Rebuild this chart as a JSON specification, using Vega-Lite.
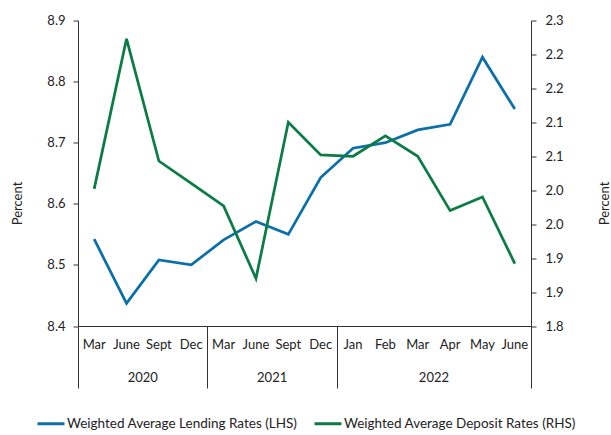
{
  "$schema": "https://vega.github.io/schema/vega-lite/v6.json",
  "autosize": "none",
  "width": 453,
  "height": 305.5,
  "padding": {"left": 78, "top": 20.5, "right": 80, "bottom": 109},
  "background": "white",
  "config": {
    "font": "Lato",
    "view": {"stroke": null},
    "axis": {
      "labelFont": "Lato", "labelFontSize": 13, "labelColor": "#222",
      "titleFont": "Lato", "titleFontSize": 13, "titleFontWeight": "normal", "titleColor": "#222",
      "grid": false, "domainColor": "#333", "tickColor": "#333", "domainWidth": 1, "tickWidth": 1
    },
    "legend": {"labelFont": "Lato", "labelFontSize": 13.5, "labelColor": "#222"}
  },
  "data": {"values": [
    {"key": "2020 Mar", "series": "Weighted Average Lending Rates (LHS)", "value": 8.542},
    {"key": "2020 June", "series": "Weighted Average Lending Rates (LHS)", "value": 8.437},
    {"key": "2020 Sept", "series": "Weighted Average Lending Rates (LHS)", "value": 8.508},
    {"key": "2020 Dec", "series": "Weighted Average Lending Rates (LHS)", "value": 8.500},
    {"key": "2021 Mar", "series": "Weighted Average Lending Rates (LHS)", "value": 8.541},
    {"key": "2021 June", "series": "Weighted Average Lending Rates (LHS)", "value": 8.571},
    {"key": "2021 Sept", "series": "Weighted Average Lending Rates (LHS)", "value": 8.550},
    {"key": "2021 Dec", "series": "Weighted Average Lending Rates (LHS)", "value": 8.643},
    {"key": "2022 Jan", "series": "Weighted Average Lending Rates (LHS)", "value": 8.691},
    {"key": "2022 Feb", "series": "Weighted Average Lending Rates (LHS)", "value": 8.700},
    {"key": "2022 Mar", "series": "Weighted Average Lending Rates (LHS)", "value": 8.721},
    {"key": "2022 Apr", "series": "Weighted Average Lending Rates (LHS)", "value": 8.730},
    {"key": "2022 May", "series": "Weighted Average Lending Rates (LHS)", "value": 8.840},
    {"key": "2022 June", "series": "Weighted Average Lending Rates (LHS)", "value": 8.755},
    {"key": "2020 Mar", "series": "Weighted Average Deposit Rates (RHS)", "value": 2.002},
    {"key": "2020 June", "series": "Weighted Average Deposit Rates (RHS)", "value": 2.223},
    {"key": "2020 Sept", "series": "Weighted Average Deposit Rates (RHS)", "value": 2.043},
    {"key": "2020 Dec", "series": "Weighted Average Deposit Rates (RHS)", "value": 2.010},
    {"key": "2021 Mar", "series": "Weighted Average Deposit Rates (RHS)", "value": 1.977},
    {"key": "2021 June", "series": "Weighted Average Deposit Rates (RHS)", "value": 1.870},
    {"key": "2021 Sept", "series": "Weighted Average Deposit Rates (RHS)", "value": 2.100},
    {"key": "2021 Dec", "series": "Weighted Average Deposit Rates (RHS)", "value": 2.052},
    {"key": "2022 Jan", "series": "Weighted Average Deposit Rates (RHS)", "value": 2.050},
    {"key": "2022 Feb", "series": "Weighted Average Deposit Rates (RHS)", "value": 2.080},
    {"key": "2022 Mar", "series": "Weighted Average Deposit Rates (RHS)", "value": 2.050},
    {"key": "2022 Apr", "series": "Weighted Average Deposit Rates (RHS)", "value": 1.970},
    {"key": "2022 May", "series": "Weighted Average Deposit Rates (RHS)", "value": 1.990},
    {"key": "2022 June", "series": "Weighted Average Deposit Rates (RHS)", "value": 1.892}
  ]},
  "layer": [
    {
      "transform": [{"filter": "datum.series === 'Weighted Average Lending Rates (LHS)'"}],
      "mark": {"type": "line", "strokeWidth": 2.75},
      "encoding": {
        "x": {
          "field": "key", "type": "ordinal", "bandPosition": 0.5,
          "scale": {"type": "band", "paddingInner": 0, "paddingOuter": 0,
            "domain": ["2020 Mar","2020 June","2020 Sept","2020 Dec","2021 Mar","2021 June","2021 Sept","2021 Dec","2022 Jan","2022 Feb","2022 Mar","2022 Apr","2022 May","2022 June"]},
          "axis": {"orient": "bottom", "title": null, "ticks": false, "tickSize": 0, "labelPadding": 12, "labelAngle": 0,
            "labelExpr": "split(datum.value, ' ')[1]", "domain": true}
        },
        "y": {
          "field": "value", "type": "quantitative",
          "scale": {"domain": [8.4, 8.9], "zero": false, "nice": false},
          "axis": {"orient": "left", "title": "Percent", "values": [8.4, 8.5, 8.6, 8.7, 8.8, 8.9],
            "format": ".1f", "tickSize": 5, "labelPadding": 8, "titleX": -54, "titleY": 182.5}
        },
        "color": {
          "field": "series", "type": "nominal",
          "scale": {"domain": ["Weighted Average Lending Rates (LHS)", "Weighted Average Deposit Rates (RHS)"], "range": ["#0b6fa8", "#0a7c44"]},
          "legend": {"title": null, "orient": "none", "direction": "horizontal", "legendX": -42, "legendY": 388,
            "symbolType": "stroke", "symbolStrokeWidth": 3, "symbolSize": 729, "labelOffset": 1,
            "columnPadding": 10, "labelLimit": 400}
        }
      }
    },
    {
      "transform": [{"filter": "datum.series === 'Weighted Average Deposit Rates (RHS)'"}],
      "mark": {"type": "line", "strokeWidth": 2.75},
      "encoding": {
        "x": {
          "field": "key", "type": "ordinal", "bandPosition": 0.5,
          "axis": {"orient": "bottom", "title": null, "ticks": false, "domain": false, "labelPadding": 45, "labelAngle": 0,
            "values": ["2020 June", "2021 June", "2022 Mar"], "labelOffset": 16.18,
            "labelExpr": "split(datum.value, ' ')[0]"}
        },
        "y": {
          "field": "value", "type": "quantitative",
          "scale": {"domain": [1.8, 2.25], "zero": false, "nice": false},
          "axis": {"orient": "right", "title": "Percent", "values": [1.8, 1.85, 1.9, 1.95, 2.0, 2.05, 2.1, 2.15, 2.2, 2.25],
            "labelExpr": "format(round(datum.value * 10 + 0.001) / 10, '.1f')",
            "tickSize": 5, "labelPadding": 9, "titleAngle": 270, "titleBaseline": "top", "titleX": 67, "titleY": 182.5}
        },
        "color": {"field": "series", "type": "nominal"}
      }
    },
    {
      "mark": {"type": "point", "opacity": 0},
      "encoding": {
        "x": {
          "field": "key", "type": "ordinal",
          "axis": {"orient": "bottom", "title": null, "labels": false, "domain": false, "ticks": true, "tickSize": 62,
            "tickBand": "extent",
            "values": ["2020 Mar", "2020 Dec", "2021 Dec", "2022 June"],
            "tickOpacity": {"condition": {"test": "datum.index === 0", "value": 0}, "value": 1}}
        },
        "y": {"field": "value", "type": "quantitative", "axis": null, "scale": {"zero": false}}
      }
    }
  ],
  "resolve": {"scale": {"y": "independent"}, "axis": {"x": "independent", "y": "independent"}}
}
